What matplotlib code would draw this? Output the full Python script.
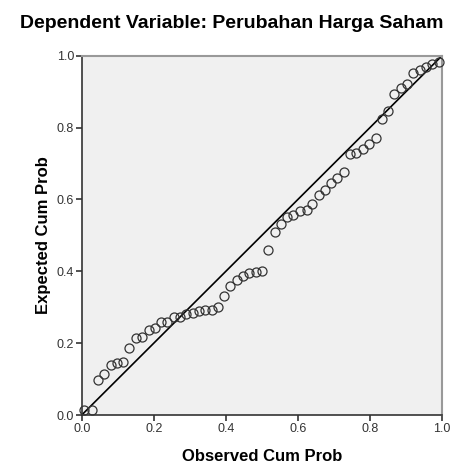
import matplotlib
matplotlib.use("Agg")
import matplotlib.pyplot as plt

# observed vs expected cumulative probabilities
observed = [0.006, 0.028, 0.046, 0.063, 0.080, 0.097, 0.114, 0.132, 0.151, 0.168,
            0.186, 0.203, 0.220, 0.238, 0.255, 0.273, 0.290, 0.308, 0.326, 0.343,
            0.361, 0.378, 0.395, 0.412, 0.430, 0.448, 0.465, 0.483, 0.500, 0.518,
            0.535, 0.552, 0.571, 0.587, 0.606, 0.624, 0.640, 0.659, 0.675, 0.692,
            0.709, 0.728, 0.745, 0.761, 0.780, 0.797, 0.816, 0.834, 0.849, 0.868,
            0.886, 0.902, 0.920, 0.939, 0.955, 0.972, 0.991]
expected = [0.014, 0.014, 0.097, 0.115, 0.139, 0.146, 0.147, 0.187, 0.213, 0.218,
            0.238, 0.241, 0.260, 0.260, 0.272, 0.274, 0.280, 0.283, 0.290, 0.291,
            0.293, 0.301, 0.332, 0.359, 0.376, 0.387, 0.394, 0.398, 0.401, 0.460,
            0.509, 0.532, 0.552, 0.557, 0.568, 0.571, 0.587, 0.611, 0.626, 0.645,
            0.660, 0.677, 0.726, 0.730, 0.739, 0.753, 0.770, 0.823, 0.846, 0.894,
            0.911, 0.922, 0.952, 0.959, 0.968, 0.978, 0.983]
ticks = [0.0, 0.2, 0.4, 0.6, 0.8, 1.0]
tick_labels = ["0.0", "0.2", "0.4", "0.6", "0.8", "1.0"]

plt.rcParams['font.family'] = ['Liberation Sans', 'DejaVu Sans']

fig = plt.figure(figsize=(4.52, 4.68), dpi=100)
ax = fig.add_axes([0.1808, 0.1132, 0.7972, 0.7678])
ax.set_facecolor('#f0f0f0')

ax.plot([0, 1], [0, 1], color='black', lw=1.2, zorder=2)
ax.plot(observed, expected, 'o', mfc='none', mec='#333333', mew=0.9, ms=6.5,
        zorder=3, clip_on=False)

ax.set_xlim(0, 1)
ax.set_ylim(0, 1)
ax.set_xticks(ticks)
ax.set_xticklabels(tick_labels)
ax.set_yticks(ticks)
ax.set_yticklabels(tick_labels)
ax.tick_params(direction='out', length=4, width=1.2, color='#333333',
               labelsize=9, labelcolor='#333333', pad=1.5)

for side in ['left', 'bottom']:
    ax.spines[side].set_color('#333333')
    ax.spines[side].set_linewidth(1.2)
for side in ['top', 'right']:
    ax.spines[side].set_color('#999999')
    ax.spines[side].set_linewidth(1.5)

ax.set_xlabel('Observed Cum Prob', fontsize=12, fontweight='bold', labelpad=10)
ax.set_ylabel('Expected Cum Prob', fontsize=12, fontweight='bold', labelpad=4)
fig.text(0.512, 1 - 23 / 468, 'Dependent Variable: Perubahan Harga Saham',
         ha='center', va='center', fontsize=14, fontweight='bold')

fig.savefig('out.png', dpi=100)
